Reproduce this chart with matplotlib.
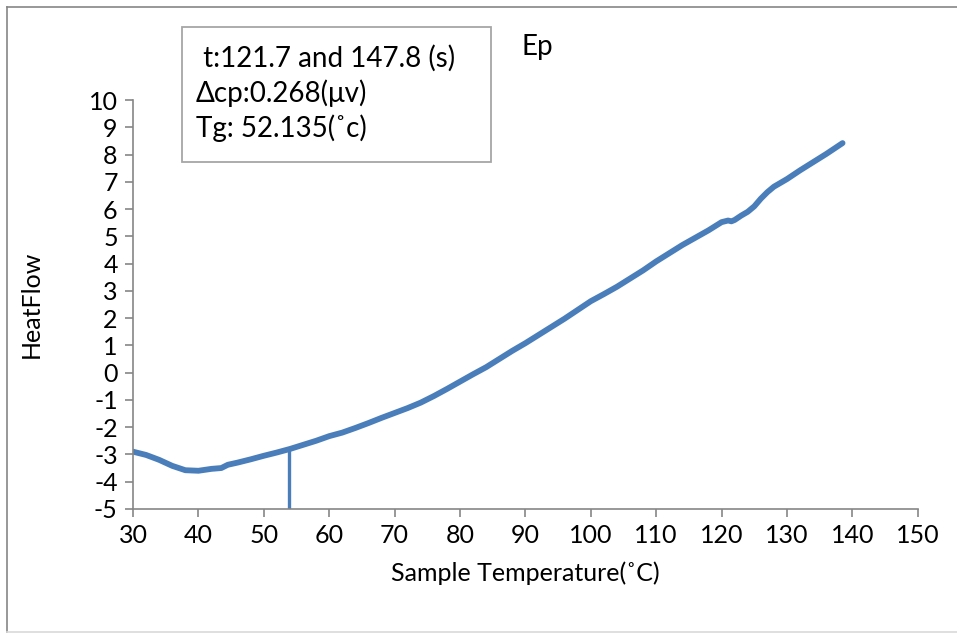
import matplotlib.pyplot as plt
from matplotlib.lines import Line2D
from matplotlib.patches import Rectangle

plt.rcParams['font.family'] = ['Lato', 'DejaVu Sans']
plt.rcParams['axes.unicode_minus'] = False

# DSC curve
temp = [30, 32, 34, 36, 38, 40, 42, 43.5, 44.5, 46, 48, 50, 52, 54, 56, 58,
        60, 62, 64, 66, 68, 70, 72, 74, 76, 78, 80, 82, 84, 86, 88, 90, 92,
        94, 96, 98, 100, 102, 104, 106, 108, 110, 112, 114, 116, 118, 120,
        121, 121.5, 122, 123, 124, 125, 126, 127, 128, 130, 132, 134, 136,
        138.5]
heat = [-2.9, -3.02, -3.2, -3.42, -3.58, -3.6, -3.53, -3.5, -3.38, -3.3,
        -3.18, -3.05, -2.93, -2.8, -2.65, -2.5, -2.33, -2.2, -2.03, -1.85,
        -1.66, -1.48, -1.3, -1.1, -0.86, -0.6, -0.33, -0.06, 0.2, 0.5,
        0.8, 1.08, 1.38, 1.68, 1.98, 2.3, 2.62, 2.88, 3.15, 3.45, 3.75, 4.08,
        4.38, 4.68, 4.95, 5.22, 5.52, 5.58, 5.55, 5.6, 5.76, 5.9, 6.1, 6.38,
        6.62, 6.82, 7.1, 7.42, 7.72, 8.02, 8.42]

tg_x = 53.9
tg_y = [-5, -2.8]

xticks = list(range(30, 151, 10))
yticks = list(range(-5, 11))

info_lines = [" t:121.7 and 147.8 (s)", "\u0394cp:0.268(\u03bcv)", "Tg: 52.135(\u02dac)"]

blue = '#4A7EBB'
grey = '#868686'

fig = plt.figure(figsize=(9.57, 6.33), dpi=100)
ax = fig.add_axes([0.139, 0.196, 0.82, 0.646])

ax.plot(temp, heat, color=blue, lw=4.2, solid_capstyle='round', solid_joinstyle='round')
ax.plot([tg_x, tg_x], tg_y, color=blue, lw=2.4)

ax.set_xlim(30, 150)
ax.set_ylim(-5, 10)
ax.set_xticks(xticks)
ax.set_yticks(yticks)
ax.spines['top'].set_visible(False)
ax.spines['right'].set_visible(False)
for s in ['left', 'bottom']:
    ax.spines[s].set_color(grey)
    ax.spines[s].set_linewidth(1.2)
ax.tick_params(direction='out', length=6, width=1.2, color=grey,
               labelsize=18, pad=5)

ax.set_xlabel("Sample Temperature(\u02daC)", fontsize=18, labelpad=10)
ax.set_ylabel("HeatFlow", fontsize=18, labelpad=33)

# text box with results
fig.patches.append(Rectangle((182 / 957, 1 - 162 / 633), 309 / 957, 135 / 633,
                             transform=fig.transFigure, fill=False,
                             edgecolor='#A6A6A6', lw=1.3))
for i, line in enumerate(info_lines):
    fig.text(196 / 957, 1 - (58 + 35 * i) / 633, line, fontsize=20,
             va='center', ha='left')
fig.text(522 / 957, 1 - 47 / 633, "Ep", fontsize=20, va='center', ha='left')

# outer chart frame
fig.add_artist(Line2D([7 / 957, 7 / 957], [1 - 632 / 633, 1 - 7 / 633],
                      transform=fig.transFigure, color=grey, lw=1.2))
fig.add_artist(Line2D([7 / 957, 1], [1 - 7 / 633, 1 - 7 / 633],
                      transform=fig.transFigure, color=grey, lw=1.2))
fig.add_artist(Line2D([7 / 957, 1], [1 - 632 / 633, 1 - 632 / 633],
                      transform=fig.transFigure, color='#D9D9D9', lw=1.2))

fig.savefig("out.png", dpi=100)
